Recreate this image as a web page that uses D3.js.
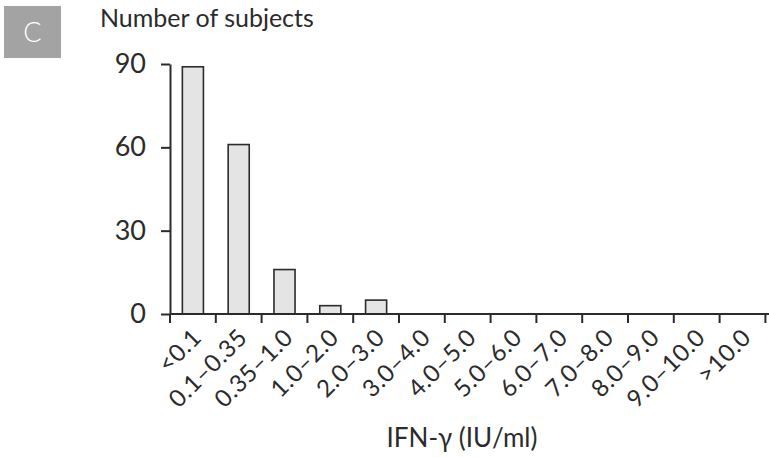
<!DOCTYPE html>
<html>
<head>
<meta charset="utf-8">
<script src="https://cdn.jsdelivr.net/npm/d3@7"></script>
<style>
  body { margin: 0; background: #fff; }
  text { font-family: Lato, "Noto Sans", sans-serif; }
</style>
</head>
<body>
<script>
// categories and counts
const categories = ['<0.1', '0.1\u20130.35', '0.35\u20131.0', '1.0\u20132.0', '2.0\u20133.0', '3.0\u20134.0',
  '4.0\u20135.0', '5.0\u20136.0', '6.0\u20137.0', '7.0\u20138.0', '8.0\u20139.0', '9.0\u201310.0', '>10.0'];
const subjects = [89, 61, 16, 3, 5, 0, 0, 0, 0, 0, 0, 0, 0];
const yTicks = [0, 30, 60, 90];

const ink = '#2b2b2b';

const svg = d3.select('body')
  .append('svg')
  .attr('width', 769)
  .attr('height', 457);

// panel letter
svg.append('rect')
  .attr('x', 4).attr('y', 6)
  .attr('width', 57).attr('height', 52)
  .attr('fill', '#a3a3a3');
svg.append('text')
  .attr('x', 32.5).attr('y', 42)
  .attr('text-anchor', 'middle')
  .attr('font-size', 27)
  .attr('font-weight', 300)
  .attr('fill', '#fff')
  .text('C');

const x = d3.scaleBand()
  .domain(categories)
  .range([170, 765.4])
  .padding(0);

const y = d3.scaleLinear()
  .domain([0, 90])
  .range([314, 64]);

// bars
const barW = x.bandwidth() * 0.46;
svg.selectAll('rect.bar')
  .data(categories.map((c, i) => ({ c: c, v: subjects[i] })).filter(d => d.v > 0))
  .enter()
  .append('rect')
  .attr('class', 'bar')
  .attr('x', d => x(d.c) + (x.bandwidth() - barW) / 2)
  .attr('y', d => y(d.v))
  .attr('width', barW)
  .attr('height', d => y(0) - y(d.v))
  .attr('fill', '#e4e4e4')
  .attr('stroke', ink)
  .attr('stroke-width', 1.6);

// y axis
const yAxis = svg.append('g')
  .attr('transform', 'translate(170,0)')
  .call(d3.axisLeft(y).tickValues(yTicks).tickSize(9).tickPadding(15).tickSizeOuter(0));
yAxis.select('.domain').attr('stroke', ink).attr('stroke-width', 2);
yAxis.selectAll('.tick line').attr('stroke', ink).attr('stroke-width', 2);
yAxis.selectAll('.tick text')
  .attr('font-size', 27)
  .attr('fill', ink)
  .attr('font-family', 'Lato, "Noto Sans", sans-serif');

// x axis line and tick marks at band edges
const edges = categories.map(c => x(c)).concat([x.range()[1]]);
svg.append('line')
  .attr('x1', 170).attr('x2', 769)
  .attr('y1', y(0)).attr('y2', y(0))
  .attr('stroke', ink).attr('stroke-width', 2);
svg.selectAll('line.xtick')
  .data(edges)
  .enter()
  .append('line')
  .attr('class', 'xtick')
  .attr('x1', d => d).attr('x2', d => d)
  .attr('y1', y(0)).attr('y2', y(0) + 9)
  .attr('stroke', ink).attr('stroke-width', 2);

// rotated category labels
svg.selectAll('text.xlab')
  .data(categories)
  .enter()
  .append('text')
  .attr('class', 'xlab')
  .attr('transform', d => `translate(${x(d) + x.bandwidth() / 2 + 10},${y(0) + 25}) rotate(-45)`)
  .attr('text-anchor', 'end')
  .attr('font-size', 24)
  .attr('letter-spacing', 0.5)
  .attr('fill', ink)
  .text(d => d);

// axis titles
svg.append('text')
  .attr('x', 100).attr('y', 27)
  .attr('font-size', 25)
  .attr('fill', ink)
  .text('Number of subjects');

svg.append('text')
  .attr('x', 462).attr('y', 447)
  .attr('text-anchor', 'middle')
  .attr('font-size', 26)
  .attr('fill', ink)
  .text('IFN-\u03b3 (IU/ml)');
</script>
</body>
</html>
